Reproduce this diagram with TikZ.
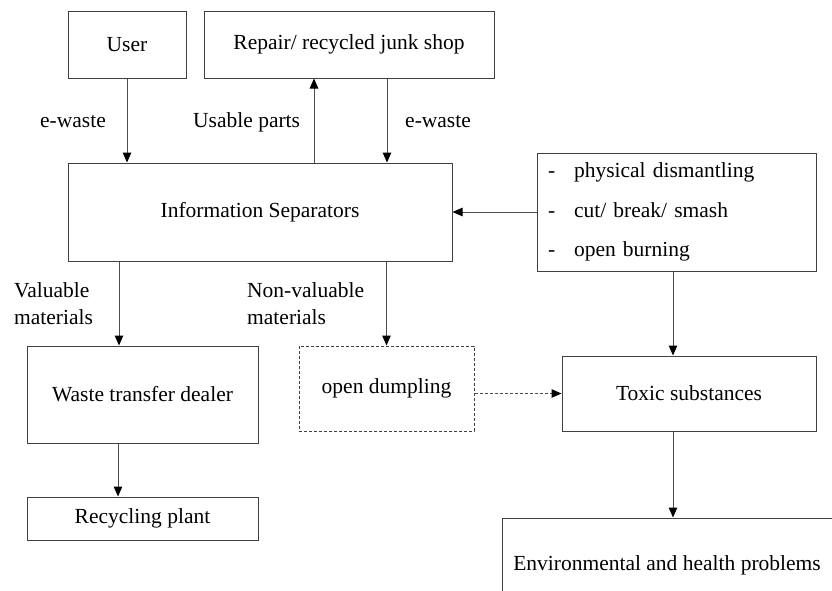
\documentclass[tikz,border=0pt]{standalone}
\usepackage{fontspec}
\setmainfont{Liberation Serif}
\usetikzlibrary{shapes,arrows,arrows.meta}
\tikzstyle{block} = [rectangle, draw=black!75, line width=1pt,
text centered, inner sep=0pt, font=\fontsize{21.5}{27}\selectfont]
\tikzstyle{line} = [draw, black!70, line width=1pt, -{Triangle[length=10pt,width=8.5pt,black]}]
\tikzstyle{lbl} = [inner sep=0pt, align=left, anchor=west, font=\fontsize{21.5}{27}\selectfont]

\begin{document}
\begin{tikzpicture}[x=1pt, y=-1pt]
	\useasboundingbox (0,0) rectangle (832,590);
	\clip (0,0) rectangle (832,590);
	% Place nodes
	\node [block, minimum width=118, minimum height=67] (user) at (127,44.5) {User};
	\node [block, minimum width=290, minimum height=67] (repair) at (349,44.5) {Repair/ recycled junk shop};
	\node [block, minimum width=384, minimum height=98] (info) at (260,212) {Information Separators};
	\node [block, minimum width=279, minimum height=118, text width=257, align=left,
		font=\fontsize{21.5}{39.5}\selectfont] (process) at (676.5,212)
		{\makebox[26pt][l]{-}physical dismantling\\ \makebox[26pt][l]{-}cut/ break/ smash\\ \makebox[26pt][l]{-}open burning};
	\path [line] (user.south) -- (user.south |- info.north);
	\path [line] ([xshift=-35]repair.south |- info.north) -- ([xshift=-35]repair.south);
	\path [line] ([xshift=38]repair.south) -- ([xshift=38]repair.south |- info.north);
	\path [line] (process.west) -- (info.east);
	\node [lbl] (ewaste1) at (40,122) {e-waste};
	\node [lbl] (usable) at (193,122) {Usable parts};
	\node [lbl] (ewaste2) at (405,122) {e-waste};

	% Place nodes
	\node [block, minimum width=231, minimum height=97] (dealer) at (142.5,394.5) {Waste transfer dealer};
	\node [block, minimum width=175, minimum height=85, dash pattern=on 3pt off 2pt] (dump) at (386.5,388.5) {open dumpling};
	\node [block, minimum width=254, minimum height=75] (toxic) at (689,393.5) {Toxic substances};
	\node [block, minimum width=231, minimum height=43] (plant) at (142.5,518.5) {Recycling plant};
	\node [block, minimum width=330, minimum height=94] (problems) at (667,565) {Environmental and health problems};
	\path [line] ([xshift=-141]info.south) -- ([xshift=-141]info.south |- dealer.north);
	\path [line] (dump.north |- info.south) -- (dump.north);
	\path [line, dash pattern=on 3pt off 2pt] (dump.east |- toxic.west) -- (toxic.west);
	\path [line] ([xshift=-3.5]process.south) -- ([xshift=-3.5]process.south |- toxic.north);
	\path [line] ([xshift=-24.5]dealer.south) -- ([xshift=-24.5]dealer.south |- plant.north);
	\path [line] ([xshift=-16]toxic.south) -- ([xshift=-16]toxic.south |- problems.north);
	\node [lbl] (valuable) at (14,303.5) {Valuable\\materials};
	\node [lbl] (nonvaluable) at (247,303.5) {Non-valuable\\materials};
\end{tikzpicture}
\end{document}
